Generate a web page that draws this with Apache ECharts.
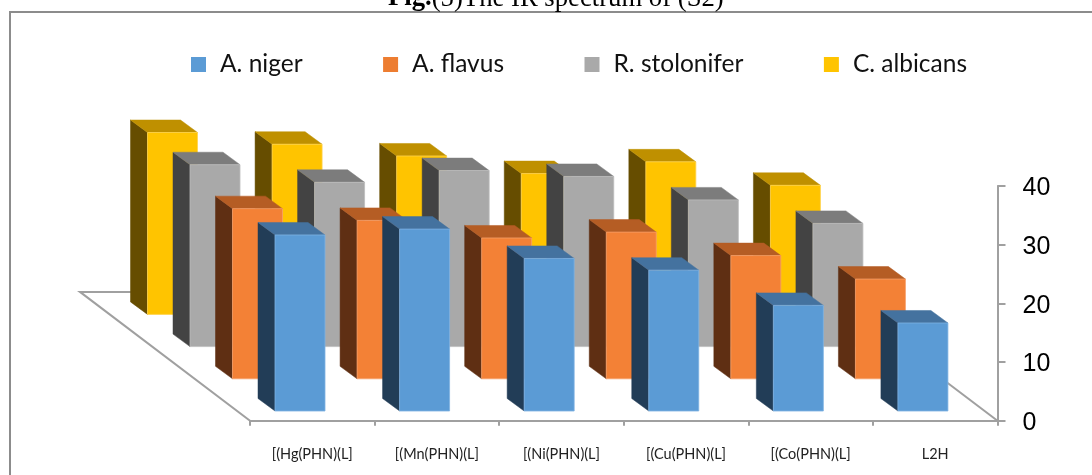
<!DOCTYPE html>
<html>
<head>
<meta charset="utf-8">
<style>html,body{margin:0;padding:0;background:#fff}#c{width:1092px;height:475px}</style>
<script src="https://cdn.jsdelivr.net/npm/echarts@6/dist/echarts.min.js"></script>
</head>
<body>
<div id="c"></div>
<script>
var categories = ['[(Hg(PHN)(L]', '[(Mn(PHN)(L]', '[(Ni(PHN)(L]', '[(Cu(PHN)(L]', '[(Co(PHN)(L]', 'L2H'];
var aNiger      = [30, 31, 26, 24, 18, 15];
var aFlavus     = [29, 27, 24, 25, 21, 17];
var rStolonifer = [31, 28, 30, 29, 25, 21];
var cAlbicans   = [31, 29, 27, 24, 26, 22];
var legendNames = ['A. niger', 'A. flavus', 'R. stolonifer', 'C. albicans'];
var frontColors = ['#5B9BD5', '#F38136', '#A9A9A9', '#FFC400'];
var edgeColors  = ['#7FB3E3', '#F6A06A', '#BDBDBD', '#FFD34D'];
var sideColors  = ['#223D57', '#5F2F13', '#434343', '#664D00'];
var topColors   = ['#44729F', '#B55D24', '#7C7C7C', '#BF9000'];

var ROW = [-42.5, -32.2], DEPTH = [-17, -12.5], BAR_W = 50, CELL_X = 25, CELL_Y = -9.7;
var AXIS_GRAY = '#A0A0A0';

function barSeries(idx, values) {
  return {
    type: 'custom', name: legendNames[idx], coordinateSystem: 'cartesian2d', silent: true,
    itemStyle: {color: legendNames[idx] === 'A. flavus' ? '#ED7D31' : frontColors[idx]},
    encode: {x: 0, y: 1},
    data: values.map(function (v, i) { return [i, v]; }),
    renderItem: function (params, api) {
      var top = api.coord([api.value(0), api.value(1)]);
      var base = api.coord([api.value(0), 0]);
      var band = api.size([1, 0])[0];
      var x0 = top[0] - band / 2 + CELL_X + ROW[0] * idx;
      var yB = base[1] + CELL_Y + ROW[1] * idx;
      var yT = yB - (base[1] - top[1]);
      var x1 = x0 + BAR_W, dx = DEPTH[0], dy = DEPTH[1];
      function poly(pts, fill, stroke) {
        return {type: 'polygon', shape: {points: pts},
          style: {fill: fill, stroke: stroke || fill, lineWidth: stroke ? 0.8 : 0.5}};
      }
      return {type: 'group', children: [
        poly([[x0, yT], [x0, yB], [x0 + dx, yB + dy], [x0 + dx, yT + dy]], sideColors[idx]),
        poly([[x0, yT], [x1, yT], [x1 + dx, yT + dy], [x0 + dx, yT + dy]], topColors[idx]),
        poly([[x0, yT], [x1, yT], [x1, yB], [x0, yB]], frontColors[idx], edgeColors[idx])
      ]};
    }
  };
}

var floorSeries = {
  type: 'custom', name: 'floor', coordinateSystem: 'cartesian2d', silent: true,
  encode: {x: 0, y: 1},
  data: [[0, 0]],
  renderItem: function (params, api) {
    var p = api.coord([0, 0]);
    var band = api.size([1, 0])[0];
    var xL = p[0] - band / 2, xR = xL + band * categories.length, y = p[1];
    var dx = ROW[0] * 4, dy = ROW[1] * 4;
    return {type: 'polyline',
      shape: {points: [[xL, y], [xL + dx, y + dy], [xR + dx, y + dy], [xR, y]]},
      style: {stroke: AXIS_GRAY, lineWidth: 2, fill: 'none'}};
  }
};

var chart = echarts.init(document.getElementById('c'), null, {renderer: 'canvas'});
chart.setOption({
  animation: false,
  backgroundColor: '#fff',
  title: {
    left: 388, top: -15, padding: 0,
    text: '{b|Fig.}(5)The IR spectrum of (S2)',
    textStyle: {fontFamily: 'Liberation Serif', fontSize: 26.7, fontWeight: 'normal', color: '#000',
      rich: {b: {fontFamily: 'Liberation Serif', fontSize: 26.7, fontWeight: 'bold', color: '#000'}}}
  },
  legend: {
    data: legendNames, left: 191, top: 52, padding: 0, itemGap: 80.5,
    itemWidth: 15, itemHeight: 15, icon: 'rect',
    textStyle: {fontFamily: 'Lato', fontSize: 24.5, color: '#111', padding: [0, 0, 0, 9]}
  },
  grid: {left: 250, right: 94.5, top: 186, bottom: 54.3},
  xAxis: {
    type: 'category', data: categories, position: 'bottom',
    axisLine: {lineStyle: {color: AXIS_GRAY, width: 2}},
    axisTick: {show: true, alignWithLabel: false, length: 5, lineStyle: {color: AXIS_GRAY, width: 2}},
    axisLabel: {fontFamily: 'Lato', fontSize: 14.5, color: '#222', margin: 26, interval: 0}
  },
  yAxis: {
    type: 'value', min: 0, max: 40, interval: 10, position: 'right',
    axisLine: {show: true, lineStyle: {color: AXIS_GRAY, width: 2}},
    axisTick: {show: true, length: 8, lineStyle: {color: AXIS_GRAY, width: 2}},
    splitLine: {show: false},
    axisLabel: {
      margin: 25,
      formatter: '{n|{value}}',
      rich: {n: {fontFamily: 'Liberation Sans', fontSize: 25, color: '#000', padding: [5, 0, 0, 0]}}
    }
  },
  graphic: [{
    type: 'polyline', silent: true,
    shape: {points: [[1092, 12], [10, 12], [10, 475]]},
    style: {stroke: '#8C8C8C', lineWidth: 2, fill: 'none'}
  }],
  series: [
    floorSeries,
    barSeries(3, cAlbicans),
    barSeries(2, rStolonifer),
    barSeries(1, aFlavus),
    barSeries(0, aNiger)
  ]
});
</script>
</body>
</html>
